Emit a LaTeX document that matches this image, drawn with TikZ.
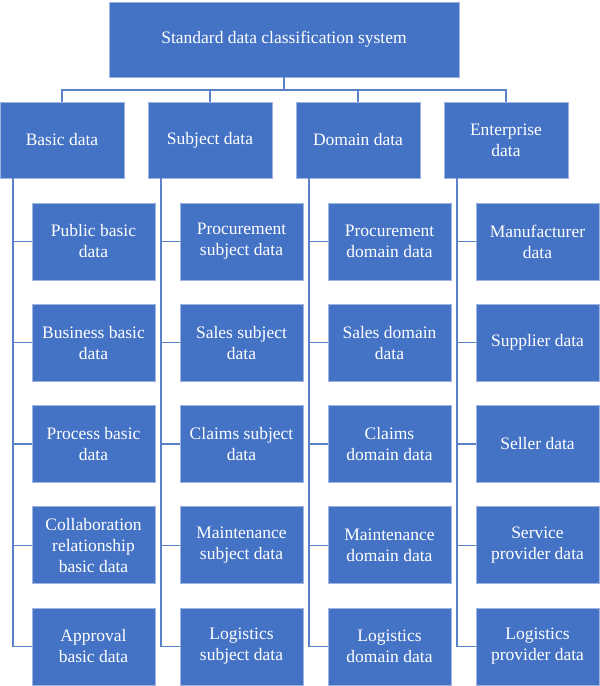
\documentclass[tikz,border=0pt]{standalone}
\usepackage{fontspec}
\setmainfont{Liberation Serif}
\usepackage{xcolor}
\definecolor{boxblue}{HTML}{4472C4}
\definecolor{edgeblue}{HTML}{9DB4E0}
\definecolor{lineblue}{HTML}{5B82C8}
\tikzset{box/.style={rectangle, fill=boxblue, draw=edgeblue, line width=0.7pt, text=white, align=center, inner sep=0pt, font=\fontsize{17.5}{21}\selectfont},
head/.style={box, minimum width=124pt, minimum height=76pt},
leaf/.style={box, minimum width=123pt, minimum height=77pt},
link/.style={draw=lineblue, line width=1.4pt}}

\begin{document}
\begin{tikzpicture}[x=1pt,y=-1pt]
\useasboundingbox (0,0) rectangle (600,686);

\node[box, minimum width=350pt, minimum height=75pt] (top) at (284,39.5) {Standard data classification system};

\node[head] (basic) at (62,140) {Basic data};
\node[head] (subject) at (210,140) {Subject data};
\node[head] (domain) at (358,140) {Domain data};
\node[head] (enterprise) at (506,140) {Enterprise\\data};

\coordinate (hub) at (284,90);
\coordinate (btop) at (13,178);
\coordinate (stop) at (161,178);
\coordinate (dtop) at (309,178);
\coordinate (etop) at (457,178);

% basic data
\foreach \j/\txt in {1/{Public basic\\data}, 2/{Business basic\\data}, 3/{Process basic\\data}, 4/{Collaboration\\relationship\\basic data}, 5/{Approval\\basic data}}
    \node[leaf] (b\j) at (93.5,{241.5+101.25*(\j-1)}) {\txt};

% subject data
\foreach \j/\txt in {1/{Procurement\\subject data}, 2/{Sales subject\\data}, 3/{Claims subject\\data}, 4/{Maintenance\\subject data}, 5/{Logistics\\subject data}}
    \node[leaf] (s\j) at (241.5,{241.5+101.25*(\j-1)}) {\txt};

% domain data
\foreach \j/\txt in {1/{Procurement\\domain data}, 2/{Sales domain\\data}, 3/{Claims\\domain data}, 4/{Maintenance\\domain data}, 5/{Logistics\\domain data}}
    \node[leaf] (d\j) at (389.5,{241.5+101.25*(\j-1)}) {\txt};

% enterprise data
\foreach \j/\txt in {1/{Manufacturer\\data}, 2/{Supplier data}, 3/{Seller data}, 4/{Service\\provider data}, 5/{Logistics\\provider data}}
    \node[leaf] (e\j) at (537.5,{241.5+101.25*(\j-1)}) {\txt};

\draw[link] (top.south) -- (hub);
\foreach \n in {basic,subject,domain,enterprise}
    \draw[link] (hub) -| (\n.north);

\foreach \c in {b,s,d,e}
    \foreach \j in {1,...,5}
        \draw[link] (\c top) |- (\c\j.west);

\end{tikzpicture}
\end{document}
